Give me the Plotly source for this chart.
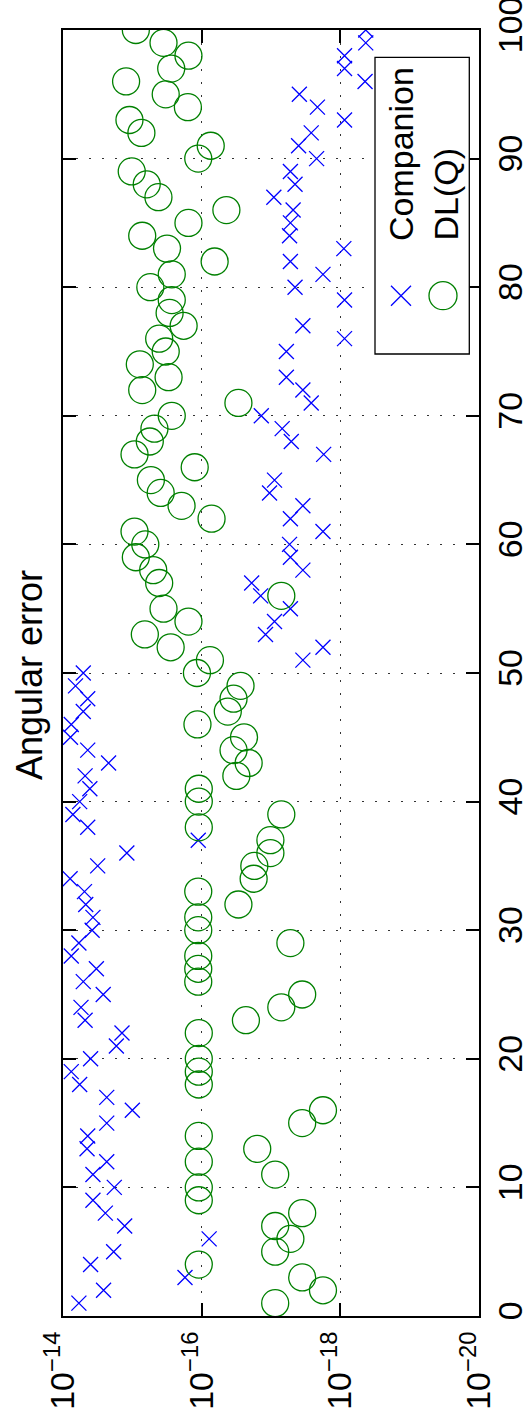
import plotly.graph_objects as go

# ---------------- data ----------------
run_index = list(range(1, 101))

companion_err = [
    5.9e-15, 2.6e-15, 1.74e-16, 4.0e-15, 1.86e-15, 7.8e-17, 1.29e-15, 2.45e-15, 3.7e-15, 1.82e-15,
    3.7e-15, 2.34e-15, 4.5e-15, 4.4e-15, 2.34e-15, 1.0e-15, 2.34e-15, 5.75e-15, 7.6e-15, 4.0e-15,
    1.7e-15, 1.41e-15, 4.8e-15, 5.5e-15, 2.63e-15, 5.1e-15, 3.3e-15, 7.6e-15, 5.9e-15, 3.8e-15,
    3.7e-15, 4.7e-15, 4.9e-15, 7.9e-15, 3.16e-15, 1.2e-15, 1.12e-16, 4.4e-15, 7.2e-15, 5.75e-15,
    4.1e-15, 4.8e-15, 2.2e-15, 4.4e-15, 7.8e-15, 7.6e-15, 5.1e-15, 4.4e-15, 6.6e-15, 5.1e-15,
    3.47e-18, 1.78e-18, 1.2e-17, 8.9e-18, 5.25e-18, 1.41e-17, 1.9e-17, 3.47e-18, 5.25e-18, 5.4e-18,
    1.78e-18, 5.25e-18, 3.47e-18, 1.05e-17, 8.9e-18, None, 1.74e-18, 5.1e-18, 6.9e-18, 1.38e-17,
    2.63e-18, 3.47e-18, 6.0e-18, None, 6.0e-18, 8.7e-19, 3.47e-18, None, 8.7e-19, 4.5e-18,
    1.78e-18, 5.25e-18, 8.9e-19, 5.4e-18, 5.25e-18, 4.8e-18, 9.1e-18, 4.5e-18, 5.25e-18, 2.2e-18,
    4.0e-18, 2.63e-18, 8.7e-19, 2.14e-18, 3.9e-18, 4.4e-19, 8.7e-19, 8.7e-19, 4.3e-19, 4.3e-19,
]

dlq_err = [
    8.7e-18, 1.78e-18, 3.55e-18, 1.1e-16, 8.7e-18, 5.25e-18, 8.7e-18, 3.55e-18, 1.1e-16, 1.1e-16,
    8.7e-18, 1.1e-16, 1.58e-17, 1.1e-16, 3.55e-18, 1.78e-18, None, 1.1e-16, 1.1e-16, 1.1e-16,
    None, 1.1e-16, 2.3e-17, 7.1e-18, 3.55e-18, 1.12e-16, 1.12e-16, 1.12e-16, 5.25e-18, 1.12e-16,
    1.12e-16, 2.95e-17, 1.12e-16, 1.78e-17, 1.74e-17, 1.02e-17, 1.02e-17, 1.1e-16, 7.1e-18, 1.1e-16,
    1.1e-16, 3.16e-17, 2.1e-17, 3.47e-17, 2.45e-17, 1.15e-16, 4.2e-17, 3.47e-17, 2.75e-17, 1.17e-16,
    7.6e-17, 2.8e-16, 6.6e-16, 1.55e-16, 3.55e-16, 7.1e-18, 4.1e-16, 5.0e-16, 8.9e-16, 6.5e-16,
    9.3e-16, 7.2e-17, 1.95e-16, 3.9e-16, 5.4e-16, 1.26e-16, 9.3e-16, 5.6e-16, 4.8e-16, 2.7e-16,
    2.95e-17, 7.2e-16, 3.0e-16, 7.8e-16, 3.3e-16, 4.1e-16, 1.82e-16, 2.9e-16, 2.7e-16, 5.5e-16,
    2.7e-16, 6.5e-17, 3.16e-16, 7.2e-16, 1.55e-16, 4.4e-17, 4.2e-16, 6.2e-16, 1.02e-15, 1.12e-16,
    7.4e-17, 7.4e-16, 1.1e-15, 1.58e-16, 3.3e-16, 1.23e-15, 2.75e-16, 1.55e-16, 3.55e-16, 8.9e-16,
]

err_tickvals = [1e-14, 1e-16, 1e-18, 1e-20]
err_ticktext = ["10<sup>\u221214</sup>", "10<sup>\u221216</sup>",
                "10<sup>\u221218</sup>", "10<sup>\u221220</sup>"]
idx_tickvals = [0, 10, 20, 30, 40, 50, 60, 70, 80, 90, 100]

series_names = ["Companion", "DL(Q)"]
title_text = "Angular error"

# ---------------- style / layout ----------------
W, H = 523, 1415
ML, MT = 63, 30
PW, PH = 416, 1286
MR = W - ML - PW
MB = H - MT - PH
FONT = "Liberation Sans, Arial, Helvetica, sans-serif"
BLUE = "#0000FF"
GREEN = "#008000"


def px(xp):
    """page pixel x -> paper coordinate"""
    return (xp - ML) / PW


def py(yp):
    """page pixel y -> paper coordinate"""
    return (MT + PH - yp) / PH


fig = go.Figure()
fig.add_trace(go.Scatter(
    x=companion_err, y=run_index, mode="markers", name=series_names[0],
    marker=dict(symbol="x-thin", size=15, color=BLUE,
                line=dict(color=BLUE, width=1.3)),
))
fig.add_trace(go.Scatter(
    x=dlq_err, y=run_index, mode="markers", name=series_names[1],
    marker=dict(symbol="circle-open", size=27, color=GREEN,
                line=dict(color=GREEN, width=1.3)),
))

axis_common = dict(
    showline=True, linecolor="black", linewidth=2, mirror="ticks",
    ticks="inside", ticklen=13, tickwidth=1.5, tickcolor="black",
    showgrid=True, gridcolor="#333333", gridwidth=1, griddash="2px,11px",
    zeroline=False, tickfont=dict(family=FONT, size=34, color="black"),
    tickangle=-90, automargin=False, ticklabeloverflow="allow",
)

fig.update_xaxes(type="log", range=[-14, -20], tickvals=err_tickvals,
                 ticktext=err_ticktext, **axis_common)
fig.update_yaxes(range=[0, 100.0001], tickvals=idx_tickvals, side="right",
                 **axis_common)

# custom rotated legend
shapes = [
    dict(type="rect", xref="paper", yref="paper",
         x0=px(375), x1=px(469.3), y0=py(354), y1=py(57.3),
         line=dict(color="black", width=1.3), fillcolor="white", layer="above"),
    dict(type="path", xref="paper", yref="paper",
         path=(f"M {px(391)} {py(285.7)} L {px(411)} {py(305.7)} "
               f"M {px(391)} {py(305.7)} L {px(411)} {py(285.7)}"),
         line=dict(color=BLUE, width=1.3), layer="above"),
    dict(type="circle", xref="paper", yref="paper",
         x0=px(443 - 14), x1=px(443 + 14), y0=py(295.7 + 14), y1=py(295.7 - 14),
         line=dict(color=GREEN, width=1.3), layer="above"),
]

annotations = [
    dict(text=title_text, textangle=-90, xref="paper", yref="paper",
         x=px(29), y=py(675), xanchor="center", yanchor="middle",
         showarrow=False, font=dict(family=FONT, size=36, color="black")),
    dict(text=series_names[0], textangle=-90, xref="paper", yref="paper",
         x=px(401), y=py(243), xanchor="center", yanchor="bottom",
         showarrow=False, font=dict(family=FONT, size=34, color="black")),
    dict(text=series_names[1], textangle=-90, xref="paper", yref="paper",
         x=px(445), y=py(243), xanchor="center", yanchor="bottom",
         showarrow=False, font=dict(family=FONT, size=34, color="black")),
]

fig.update_layout(
    width=W, height=H, autosize=False,
    margin=dict(l=ML, r=MR, t=MT, b=MB),
    paper_bgcolor="white", plot_bgcolor="white",
    showlegend=False, shapes=shapes, annotations=annotations,
    font=dict(family=FONT, size=34, color="black"),
)

# remove the browser's default 8px body margin so the figure fills the window exactly
fig.write_html(
    "out.html",
    config={"displayModeBar": False},
    post_script="document.body.style.margin='0';document.body.style.overflow='hidden';",
)
